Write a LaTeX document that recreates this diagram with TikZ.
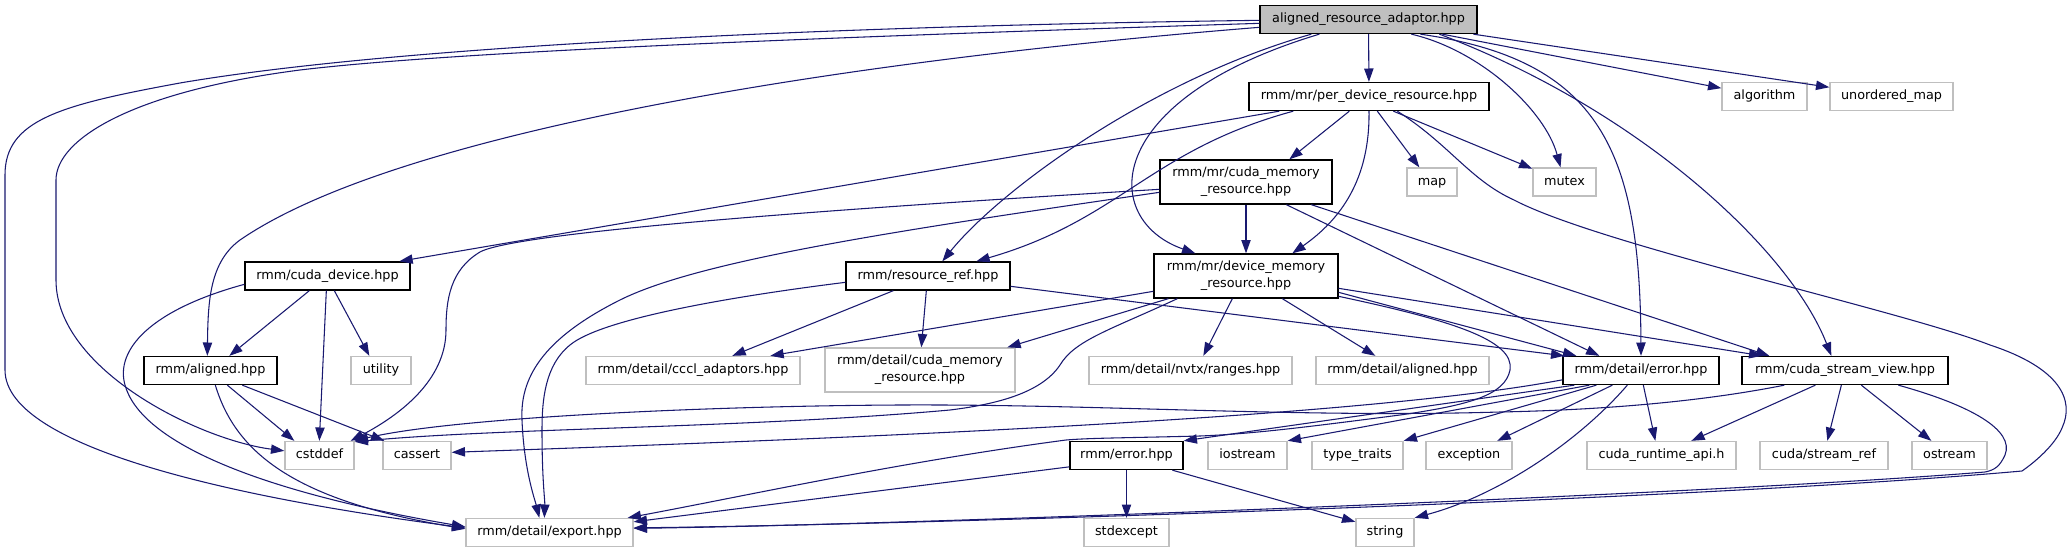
\documentclass[tikz,border=0pt]{standalone}
\usepackage{fontspec}
\setmainfont{DejaVu Sans}
\usetikzlibrary{arrows.meta,calc}
\definecolor{edgec}{HTML}{191970}
\definecolor{grayb}{HTML}{BFBFBF}
\begin{document}
\begin{tikzpicture}[x=0.75pt,y=-0.75pt,
  base/.style={draw=black,fill=white,line width=1pt,inner sep=0pt,font=\fontsize{9.6}{12.75}\selectfont},
  one/.style={base,minimum height=21pt,text height=7pt,text depth=2.2pt},
  two/.style={base,minimum height=33pt,align=center},
  gry/.style={draw=grayb},
  main/.style={fill=grayb},
  bw/.style={minimum width=#1*0.75pt},
  ed/.style={draw=edgec,line width=0.8pt,-{Triangle[length=10pt,width=7pt]}}]
\useasboundingbox (0,0) rectangle (2067,553);
\fill[white] (0,0) rectangle (2067,553);
% nodes
\node[one,main,bw=217] (nA) at (1368.5,19.5) {aligned\_resource\_adaptor.hpp};
\node[one,bw=240] (nP) at (1369,96.5) {rmm/mr/per\_device\_resource.hpp};
\node[one,gry,bw=85] (nalg) at (1764.5,96.5) {algorithm};
\node[one,gry,bw=123] (num) at (1891.5,96.5) {unordered\_map};
\node[two,bw=172] (nC) at (1246,182) {rmm/mr/cuda\_memory\\\_resource.hpp};
\node[one,gry,bw=50] (nmap) at (1432,182) {map};
\node[one,gry,bw=63] (nmutex) at (1564.5,182) {mutex};
\node[one,bw=165] (nCD) at (327.5,276) {rmm/cuda\_device.hpp};
\node[one,bw=164] (nR) at (928,276) {rmm/resource\_ref.hpp};
\node[two,bw=184] (nD) at (1246,276) {rmm/mr/device\_memory\\\_resource.hpp};
\node[one,bw=133] (nAL) at (210.5,370.5) {rmm/aligned.hpp};
\node[one,gry,bw=60] (nutil) at (381,370.5) {utility};
\node[one,gry,bw=214] (ncccl) at (693,370.5) {rmm/detail/cccl\_adaptors.hpp};
\node[two,gry,bw=190] (ndcm) at (920,370) {rmm/detail/cuda\_memory\\\_resource.hpp};
\node[one,gry,bw=203] (nnvtx) at (1190.5,370.5) {rmm/detail/nvtx/ranges.hpp};
\node[one,gry,bw=173] (ndal) at (1402.5,370.5) {rmm/detail/aligned.hpp};
\node[one,bw=156] (nE) at (1641,370.5) {rmm/detail/error.hpp};
\node[one,bw=206] (nS) at (1845,370.5) {rmm/cuda\_stream\_view.hpp};
\node[one,gry,bw=69] (ncstd) at (319.5,455.5) {cstddef};
\node[one,gry,bw=68] (ncass) at (417,455.5) {cassert};
\node[one,bw=113] (nRE) at (1126.5,455.5) {rmm/error.hpp};
\node[one,gry,bw=79] (nios) at (1247.5,455.5) {iostream};
\node[one,gry,bw=91] (ntt) at (1357.5,455.5) {type\_traits};
\node[one,gry,bw=86] (nexc) at (1469,455.5) {exception};
\node[one,gry,bw=149] (ncra) at (1661.5,455.5) {cuda\_runtime\_api.h};
\node[one,gry,bw=128] (nsr) at (1824,455.5) {cuda/stream\_ref};
\node[one,gry,bw=75] (nost) at (1949.5,455.5) {ostream};
\node[one,gry,bw=167] (nexp) at (549.5,532.5) {rmm/detail/export.hpp};
\node[one,gry,bw=85] (nstdx) at (1126.5,532.5) {stdexcept};
\node[one,gry,bw=58] (nstr) at (1385,532.5) {string};
% edges from aligned_resource_adaptor
\draw[ed] (nA) -- (nP);
\draw[ed] ($(nA.south west)+(183,0)$) -- (nalg);
\draw[ed] ($(nA.south west)+(214,0)$) -- (num);
\draw[ed] ($(nA.south west)+(152,0)$) .. controls (1480,50) and (1545,110) .. (nmutex);
\draw[ed] ($(nA.south west)+(161,0)$) .. controls (1600,60) and (1640,150) .. (nE.north);
\draw[ed] ($(nA.south west)+(180,0)$) .. controls (1640,110) and (1790,250) .. ($(nS.north west)+(90,0)$);
\draw[ed] ($(nA.north west)+(0,15.5)$) .. controls (900,25) and (420,42) .. (180,83) .. controls (60,105) and (5,120) .. (5,175) -- (5,370) .. controls (5,450) and (250,500) .. ($(nexp.north west)+(0,10)$);
\draw[ed] ($(nA.north west)+(0,18.5)$) .. controls (800,38) and (450,52) .. (300,70) .. controls (130,92) and (56,140) .. (56,180) -- (56,280) .. controls (56,370) and (200,440) .. ($(ncstd.north west)+(0,10)$);
\draw[ed] ($(nA.north west)+(0,22.5)$) .. controls (850,60) and (400,130) .. (240,240) .. controls (210,262) and (208,300) .. ($(nAL.north west)+(64,0)$);
\draw[ed] ($(nA.south west)+(52,0)$) .. controls (1150,80) and (1000,190) .. ($(nR.north west)+(97,0)$);
\draw[ed] ($(nA.south west)+(60,0)$) .. controls (1100,100) and (1100,220) .. ($(nD.north west)+(42,0)$);
% per_device_resource
\draw[ed] ($(nP.south west)+(31,0)$) -- ($(nCD.north west)+(155,0)$);
\draw[ed] ($(nP.south west)+(45,0)$) .. controls (1150,150) and (1120,220) .. ($(nR.north west)+(131,0)$);
\draw[ed] ($(nP.south west)+(101,0)$) -- ($(nC.north west)+(130,0)$);
\draw[ed] (nP.south) .. controls (1370,180) and (1340,220) .. ($(nD.north west)+(139,0)$);
\draw[ed] ($(nP.south west)+(129,0)$) -- ($(nmap.north west)+(13,0)$);
\draw[ed] ($(nP.south west)+(145,0)$) -- (nmutex);
\draw[ed] ($(nP.south west)+(149,0)$) .. controls (1450,145) and (1470,180) .. (1514,200) .. controls (1600,245) and (1900,310) .. (1990,345) .. controls (2060,368) and (2075,400) .. (2062,428) .. controls (2055,445) and (2035,462) .. (2022,471) .. controls (1700,500) and (900,525) .. ($(nexp.north east)+(0,10)$);
% cuda_memory_resource
\draw[ed] (nC) -- (nD);
\draw[ed] ($(nC.north west)+(0,30)$) .. controls (900,205) and (520,230) .. (480,252) .. controls (450,270) and (446,300) .. (446,330) .. controls (446,380) and (400,415) .. ($(ncstd.north east)+(-4,0)$);
\draw[ed] ($(nC.north west)+(0,33)$) .. controls (900,230) and (700,260) .. (620,300) .. controls (540,340) and (520,380) .. (522,420) .. controls (524,470) and (535,500) .. ($(nexp.north west)+(74,0)$);
\draw[ed] ($(nC.south west)+(127,0)$) -- ($(nE.north west)+(37,0)$);
\draw[ed] ($(nC.south west)+(152,0)$) -- ($(nS.north west)+(28,0)$);
% device_memory_resource
\draw[ed] ($(nD.north west)+(0,38)$) -- ($(ncccl.north west)+(185,0)$);
\draw[ed] ($(nD.south west)+(15,0)$) -- ($(ndcm.north west)+(183,0)$);
\draw[ed] ($(nD.south west)+(24,0)$) .. controls (1110,330) and (1075,340) .. (1060,365) .. controls (1040,395) and (990,405) .. (950,410) .. controls (750,428) and (500,428) .. ($(ncstd.north east)+(0,1)$);
\draw[ed] ($(nD.south west)+(79,0)$) -- ($(nnvtx.north west)+(115,0)$);
\draw[ed] ($(nD.south west)+(129,0)$) -- ($(ndal.north west)+(60,0)$);
\draw[ed] ($(nD.north east)+(0,39)$) -- ($(nE.north west)+(14,0)$);
\draw[ed] ($(nD.north east)+(0,35)$) -- ($(nS.north west)+(21,0)$);
\draw[ed] ($(nD.north east)+(0,43)$) .. controls (1450,320) and (1515,340) .. (1510,370) .. controls (1505,395) and (1470,405) .. (1400,415) .. controls (1300,428) and (1250,434) .. (1200,436) .. controls (1120,438) and (1090,438) .. (1066,440) .. controls (900,462) and (750,495) .. ($(nexp.north east)+(-6,0)$);
% resource_ref
\draw[ed] ($(nR.south west)+(48,0)$) -- ($(ncccl.north west)+(147,0)$);
\draw[ed] ($(nR.south west)+(81,0)$) -- ($(ndcm.north west)+(97,0)$);
\draw[ed] ($(nR.north east)+(0,25)$) -- ($(nE.north west)+(2,0)$);
\draw[ed] ($(nR.north west)+(0,21)$) .. controls (720,298) and (600,320) .. (570,345) .. controls (545,365) and (542,400) .. (542,430) .. controls (542,480) and (545,500) .. ($(nexp.north west)+(79,0)$);
% cuda_device
\draw[ed] ($(nCD.south west)+(65,0)$) -- ($(nAL.north west)+(86,0)$);
\draw[ed] ($(nCD.south west)+(82,0)$) -- ($(ncstd.north west)+(35,0)$);
\draw[ed] ($(nCD.south west)+(90,0)$) -- ($(nutil.north west)+(19,0)$);
\draw[ed] ($(nCD.north west)+(0,23)$) .. controls (150,310) and (115,350) .. (125,385) .. controls (140,440) and (250,490) .. ($(nexp.north west)+(0,9)$);
% aligned
\draw[ed] ($(nAL.south west)+(84,0)$) -- ($(ncstd.north west)+(10,0)$);
\draw[ed] ($(nAL.south west)+(99,0)$) -- ($(ncass.north west)+(2,0)$);
\draw[ed] ($(nAL.south west)+(72,0)$) .. controls (235,450) and (290,500) .. ($(nexp.north west)+(0,11)$);
% detail/error
\draw[ed] ($(nE.south west)+(81,0)$) -- ($(ncra.north west)+(69,0)$);
\draw[ed] ($(nE.south west)+(50,0)$) -- ($(nexc.north west)+(72,0)$);
\draw[ed] ($(nE.south west)+(65,0)$) .. controls (1580,440) and (1500,495) .. (nstr.north east);
\draw[ed] ($(nE.south west)+(34,0)$) -- (ntt.north east);
\draw[ed] ($(nE.south west)+(27,0)$) -- (nios.north east);
\draw[ed] ($(nE.south west)+(12,0)$) -- (nRE.north east);
\draw[ed] ($(nE.north west)+(0,24)$) .. controls (1350,420) and (800,440) .. ($(ncass.north east)+(0,11.5)$);
% cuda_stream_view
\draw[ed] ($(nS.south west)+(74,0)$) -- ($(ncra.north west)+(105,0)$);
\draw[ed] ($(nS.south west)+(100,0)$) -- ($(nsr.north west)+(68,0)$);
\draw[ed] ($(nS.south west)+(120,0)$) -- ($(nost.north west)+(20,0)$);
\draw[ed] ($(nS.south west)+(157,0)$) .. controls (1970,405) and (2015,430) .. (2005,455) .. controls (2000,466) and (1995,470) .. (1985,472) .. controls (1700,495) and (900,525) .. ($(nexp.north east)+(0,10.5)$);
\draw[ed] ($(nS.south west)+(43,0)$) .. controls (1700,402) and (1600,410) .. (1500,412) .. controls (1300,418) and (1100,404) .. (900,405) .. controls (700,406) and (450,418) .. (ncstd.north east);
% rmm/error
\draw[ed] (nRE) -- (nstdx);
\draw[ed] ($(nRE.south west)+(103,0)$) -- ($(nstr.north west)+(0,4)$);
\draw[ed] ($(nRE.north west)+(0,26)$) -- ($(nexp.north east)+(0,4)$);
\end{tikzpicture}
\end{document}
